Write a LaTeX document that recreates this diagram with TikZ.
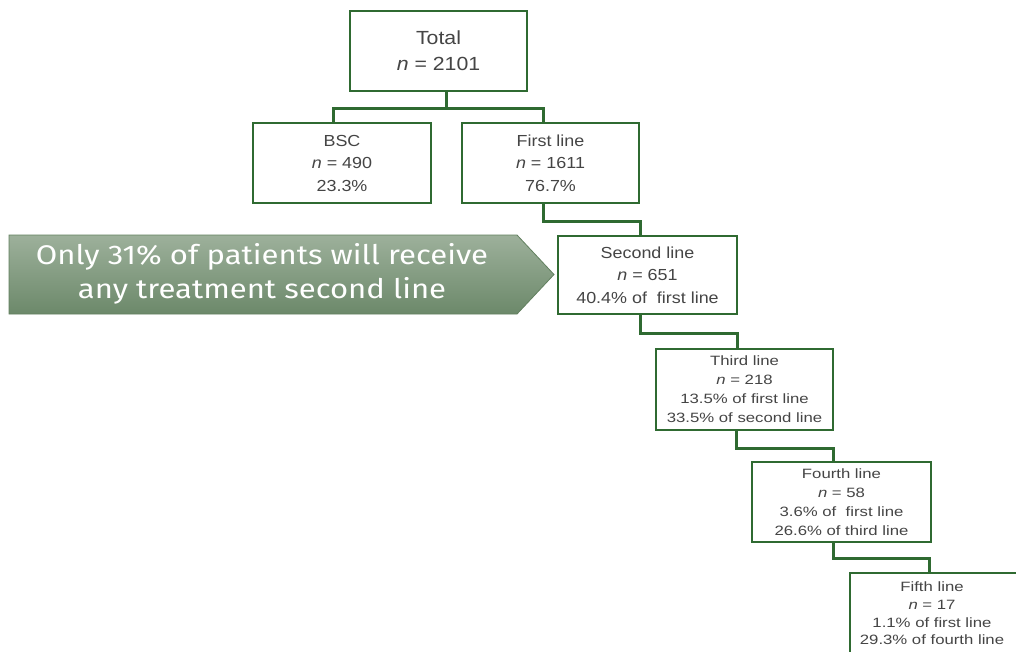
\documentclass[tikz,border=0pt]{standalone}
\usepackage{fontspec}
\setmainfont{Liberation Sans}
\newfontfamily\boxfont[FakeStretch=1.12]{Liberation Sans}
\newfontfamily\smallboxfont[FakeStretch=1.24]{Liberation Sans}
\newfontfamily\notefont[FakeStretch=1.15]{Fira Sans}
\usetikzlibrary{calc}
\definecolor{linegreen}{HTML}{2F6A31}
\definecolor{txtgray}{HTML}{454545}
\definecolor{notetop}{HTML}{9DB09B}
\definecolor{notebot}{HTML}{6C896A}
\definecolor{noteedge}{HTML}{62805F}
\begin{document}
\begin{tikzpicture}[x=1pt,y=-1pt,
  box/.style={draw=linegreen, line width=2pt, fill=white, inner sep=0pt, align=center, text=txtgray},
  conn/.style={draw=linegreen, line width=3pt, line join=miter},
  bigtext/.style={font=\boxfont\fontsize{19pt}{26pt}\selectfont},
  midtext/.style={font=\boxfont\fontsize{16pt}{22.5pt}\selectfont},
  smalltext/.style={font=\smallboxfont\fontsize{13.5pt}{19pt}\selectfont},
  notetext/.style={font=\notefont\fontsize{27pt}{34pt}\selectfont, text=white, align=center, inner sep=0pt},
]
\path[use as bounding box, fill=white] (0,0) rectangle (1016,651);
\clip (0,0) rectangle (1016,651);

% boxes
\node[box, bigtext, minimum width=177pt, minimum height=80pt] (total) at (438.5,51) {Total\\\textit{n} = 2101};
\node[box, midtext, minimum width=178pt, minimum height=80pt] (bsc) at (342,163) {BSC\\\textit{n} = 490\\23.3\%};
\node[box, midtext, minimum width=177pt, minimum height=80pt] (first) at (550.5,163) {First line\\\textit{n} = 1611\\76.7\%};
\node[box, midtext, minimum width=179pt, minimum height=78pt] (second) at (647.5,275) {Second line\\\textit{n} = 651\\40.4\% of\ \ first line};
\node[box, smalltext, minimum width=177pt, minimum height=81pt] (third) at (744.5,389) {Third line\\\textit{n} = 218\\13.5\% of first line\\33.5\% of second line};
\node[box, smalltext, minimum width=179pt, minimum height=80pt] (fourth) at (841.5,502) {Fourth line\\\textit{n} = 58\\3.6\% of\ \ first line\\26.6\% of third line};
\node[box, minimum width=180pt, minimum height=95pt] (fifth) at (940,620.5) {};
\node[text=txtgray, align=center, inner sep=0pt, font=\smallboxfont\fontsize{13.5pt}{17.7pt}\selectfont] (fifthtext) at (932,613.5) {Fifth line\\\textit{n} = 17\\1.1\% of first line\\29.3\% of fourth line};

% connectors
\draw[conn] ($(total.south)+(7.5,0)$) -- ++(0,16) coordinate (j0);
\draw[conn] ($(bsc.north)+(-9,0)$) |- (j0) -| ($(first.north)+(-7.5,0)$);
\draw[conn] ($(first.south)+(-7.5,0)$) -- ++(0,17) -| ($(second.north)+(-7.5,0)$);
\draw[conn] ($(second.south)+(-7.5,0)$) -- ++(0,18) -| ($(third.north)+(-7.5,0)$);
\draw[conn] ($(third.south)+(-8.5,0)$) -- ++(0,18) -| ($(fourth.north)+(-8.5,0)$);
\draw[conn] ($(fourth.south)+(-8.5,0)$) -- ++(0,15) -| ($(fifth.north)+(-11,0)$);

% callout
\shade[top color=notetop, bottom color=notebot, draw=noteedge, line width=0.8pt]
  (9,235) -- (517,235) -- (554,274.5) -- (517,314) -- (9,314) -- cycle;
\node[notetext] (note) at (262,273.5) {Only 31\% of patients will receive\\any treatment second line};
\end{tikzpicture}
\end{document}
